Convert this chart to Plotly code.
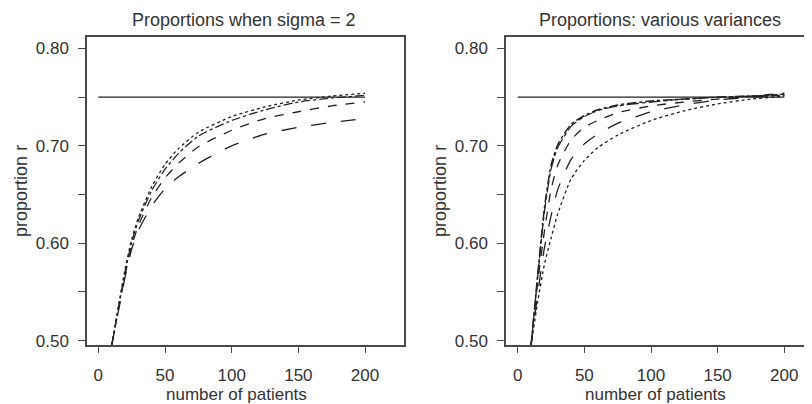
import plotly.graph_objects as go

# ---------------- data ----------------
patients = [10, 15, 20, 25, 30, 40, 50, 60, 75, 100, 125, 150, 175, 200]

# left panel: sigma = 2, different designs
left_dotted   = [0.495, 0.535, 0.573, 0.604, 0.626, 0.658, 0.681, 0.697, 0.714, 0.730, 0.740, 0.747, 0.751, 0.754]
left_dashdot  = [0.495, 0.533, 0.570, 0.601, 0.623, 0.654, 0.676, 0.692, 0.710, 0.726, 0.737, 0.745, 0.749, 0.752]
left_dashed   = [0.495, 0.531, 0.567, 0.597, 0.618, 0.647, 0.667, 0.682, 0.699, 0.716, 0.728, 0.735, 0.741, 0.745]
left_longdash = [0.495, 0.530, 0.565, 0.594, 0.613, 0.638, 0.656, 0.668, 0.682, 0.700, 0.712, 0.719, 0.724, 0.728]

# right panel: various variances
right_dashdot  = [0.495, 0.568, 0.636, 0.680, 0.701, 0.722, 0.731, 0.737, 0.742, 0.746, 0.748, 0.750, 0.751, 0.752]
right_twodash  = [0.495, 0.566, 0.632, 0.676, 0.698, 0.720, 0.730, 0.736, 0.741, 0.745, 0.748, 0.750, 0.751, 0.753]
right_dashed   = [0.495, 0.560, 0.612, 0.655, 0.680, 0.706, 0.719, 0.726, 0.734, 0.741, 0.745, 0.748, 0.751, 0.754]
right_longdash = [0.495, 0.548, 0.595, 0.628, 0.655, 0.686, 0.702, 0.712, 0.723, 0.735, 0.742, 0.747, 0.750, 0.752]
right_dotted   = [0.495, 0.540, 0.578, 0.605, 0.630, 0.666, 0.685, 0.698, 0.711, 0.726, 0.736, 0.743, 0.748, 0.751]

target_x = [0, 200]
target_y = [0.75, 0.75]

x_tickvals = [0, 50, 100, 150, 200]
x_ticktext = ["0", "50", "100", "150", "200"]
y_tickvals = [0.50, 0.60, 0.70, 0.80]
y_ticktext = ["0.50", "0.60", "0.70", "0.80"]

titles = ["Proportions when sigma = 2", "Proportions: various variances"]
xlabel = "number of patients"
ylabel = "proportion r"

# ---------------- figure ----------------
W, H = 812, 404
OFF = 8      # page body margin offsets the figure
HEFF = 396   # effective rendered height observed
FONT = "Liberation Sans, Arial, sans-serif"
TXT = "#333333"
LINE = "#222222"
AX = "#4a4a4a"

fig = go.Figure()

def add_line(x, y, dash, xa, ya, width=1.3):
    fig.add_trace(go.Scatter(x=x, y=y, mode="lines", xaxis=xa, yaxis=ya,
                             line=dict(color=LINE, width=width, dash=dash, shape="spline", smoothing=0.6),
                             showlegend=False, hoverinfo="skip"))

# left
add_line(target_x, target_y, "solid", "x", "y", 1.4)
add_line(patients, left_longdash, "longdash", "x", "y")
add_line(patients, left_dashed, "dash", "x", "y")
add_line(patients, left_dashdot, "dashdot", "x", "y")
add_line(patients, left_dotted, "dot", "x", "y")
# right
add_line(target_x, target_y, "solid", "x2", "y2", 1.4)
add_line(patients, right_dotted, "dot", "x2", "y2")
add_line(patients, right_longdash, "longdash", "x2", "y2")
add_line(patients, right_dashed, "dash", "x2", "y2")
add_line(patients, right_twodash, "12px,3px,4px,3px", "x2", "y2")
add_line(patients, right_dashdot, "dashdot", "x2", "y2", 1.5)

def px_x(p):
    return (p - OFF) / W

def px_y(p):
    return 1 - (p - OFF) / HEFF

ydom = [px_y(343), px_y(37)]
yrange = [0.4958, 0.8116]

common_x = dict(showgrid=False, zeroline=False, showline=True, mirror=True, linecolor=AX, linewidth=1.5,
                ticks="outside", ticklen=7, tickwidth=1.3, tickcolor=AX,
                tickvals=x_tickvals, ticktext=x_ticktext,
                tickfont=dict(family=FONT, size=17, color=TXT), ticklabelstandoff=7)
common_y = dict(showgrid=False, zeroline=False, showline=True, mirror=True, linecolor=AX, linewidth=1.5,
                ticks="outside", ticklen=7, tickwidth=1.3, tickcolor=AX,
                tickvals=y_tickvals, ticktext=y_ticktext, range=yrange, domain=ydom,
                minor=dict(dtick=0.05, tick0=0.5, ticks="outside", ticklen=7, tickwidth=1.3, tickcolor=AX,
                           showgrid=False),
                tickfont=dict(family=FONT, size=17, color=TXT), ticklabelstandoff=6)

fig.update_layout(
    width=W, height=H,
    margin=dict(l=0, r=0, t=0, b=0),
    paper_bgcolor="white", plot_bgcolor="white",
    xaxis=dict(common_x, domain=[px_x(87), px_x(404)], range=[-8.5, 229.2], anchor="y"),
    yaxis=dict(common_y, anchor="x"),
    xaxis2=dict(common_x, domain=[px_x(506), px_x(810)], range=[-8.8, 219.3], anchor="y2"),
    yaxis2=dict(common_y, anchor="x2"),
)

ann = []
for cx, t in [(244, titles[0]), (660, titles[1])]:
    ann.append(dict(x=px_x(cx), y=px_y(20), xref="paper", yref="paper", text=t, showarrow=False,
                    font=dict(family=FONT, size=18, color=TXT), xanchor="center", yanchor="middle"))
for cx in [236, 655]:
    ann.append(dict(x=px_x(cx), y=px_y(393), xref="paper", yref="paper", text=xlabel, showarrow=False,
                    font=dict(family=FONT, size=17, color=TXT), xanchor="center", yanchor="middle"))
for cx in [21, 440]:
    ann.append(dict(x=px_x(cx), y=px_y(190), xref="paper", yref="paper", text=ylabel, showarrow=False,
                    textangle=-90, font=dict(family=FONT, size=18, color=TXT),
                    xanchor="center", yanchor="middle"))
fig.update_layout(annotations=ann)

fig.write_html("out.html")
